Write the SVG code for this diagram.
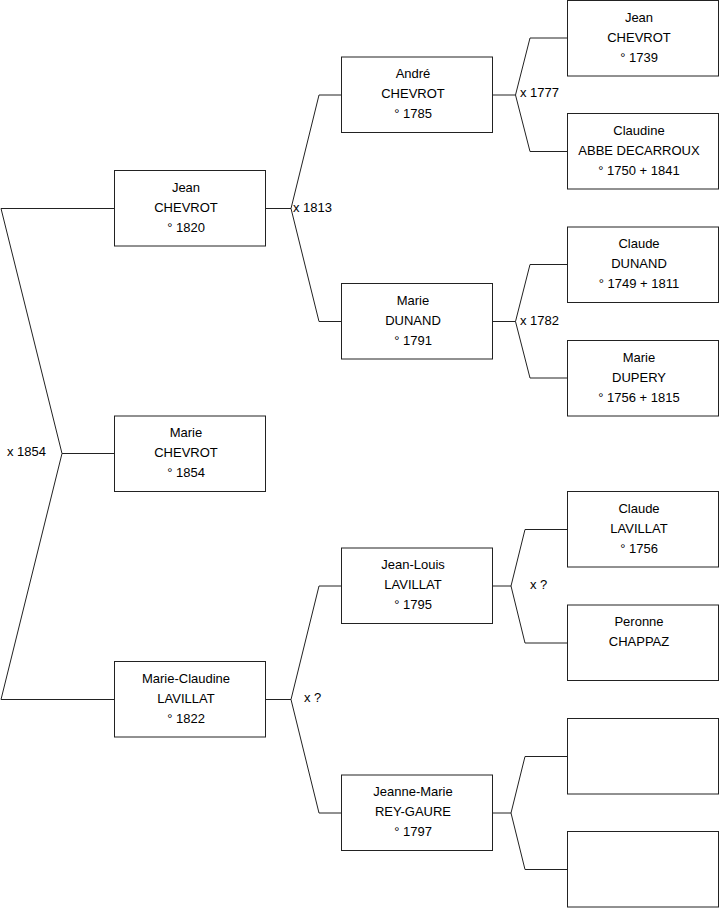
<svg xmlns="http://www.w3.org/2000/svg" width="719" height="908" viewBox="0 0 719 908">
<style>
.box{fill:#fff;stroke:#222;stroke-width:1}
.con path{fill:none;stroke:#222;stroke-width:1}
text{font-family:"Liberation Sans",Arial,sans-serif;font-size:13px;fill:#000}
.c{text-anchor:middle}
</style>
<rect width="719" height="908" fill="#fff"/>
<g id="connectors" class="con">
<path d="M114.5,208.5 H1 L62,453.5 L1,699.5 H114.5 M62,453.5 H114.5"/>
<path d="M265.5,208.5 H291 M341.5,95 H319 L291,208.5 L319,321.5 H341.5"/>
<path d="M265.5,699.5 H291 M341.5,586 H319 L291,699.5 L319,813 H341.5"/>
<path d="M492,95 H515.5 M567.5,38 H530 L515.5,95 L530,151.5 H567.5"/>
<path d="M492,321.5 H515.5 M567.5,264.5 H530 L515.5,321.5 L530,378 H567.5"/>
<path d="M492,586 H511 M567.5,529.5 H525 L511,586 L525,643 H567.5"/>
<path d="M492,813 H511 M567.5,756.5 H525 L511,813 L525,869.5 H567.5"/>
</g>
<g id="labels">
<text x="7" y="456">x 1854</text>
<text x="293" y="211.5">x 1813</text>
<text x="304" y="702">x ?</text>
<text x="520" y="97">x 1777</text>
<text x="520" y="324.5">x 1782</text>
<text x="530" y="588.5">x ?</text>
</g>
<g id="n-jean-1820">
<rect class="box" x="114.5" y="170.5" width="151" height="75.5"/>
<text class="c" x="186" y="191.5">Jean</text>
<text class="c" x="186" y="211.5">CHEVROT</text>
<text class="c" x="186" y="231.5">° 1820</text>
</g>
<g id="n-marie-1854">
<rect class="box" x="114.5" y="416" width="151" height="75.5"/>
<text class="c" x="186" y="437">Marie</text>
<text class="c" x="186" y="457">CHEVROT</text>
<text class="c" x="186" y="477">° 1854</text>
</g>
<g id="n-marie-claudine">
<rect class="box" x="114.5" y="661.5" width="151" height="75.5"/>
<text class="c" x="186" y="682.5">Marie-Claudine</text>
<text class="c" x="186" y="702.5">LAVILLAT</text>
<text class="c" x="186" y="722.5">° 1822</text>
</g>
<g id="n-andre">
<rect class="box" x="341.5" y="57" width="151" height="75.5"/>
<text class="c" x="413" y="78">André</text>
<text class="c" x="413" y="98">CHEVROT</text>
<text class="c" x="413" y="118">° 1785</text>
</g>
<g id="n-marie-dunand">
<rect class="box" x="341.5" y="283.5" width="151" height="75.5"/>
<text class="c" x="413" y="304.5">Marie</text>
<text class="c" x="413" y="324.5">DUNAND</text>
<text class="c" x="413" y="344.5">° 1791</text>
</g>
<g id="n-jean-louis">
<rect class="box" x="341.5" y="548" width="151" height="75.5"/>
<text class="c" x="413" y="569">Jean-Louis</text>
<text class="c" x="413" y="589">LAVILLAT</text>
<text class="c" x="413" y="609">° 1795</text>
</g>
<g id="n-jeanne-marie">
<rect class="box" x="341.5" y="775" width="151" height="75.5"/>
<text class="c" x="413" y="796">Jeanne-Marie</text>
<text class="c" x="413" y="816">REY-GAURE</text>
<text class="c" x="413" y="836">° 1797</text>
</g>
<g id="n-jean-1739">
<rect class="box" x="567.5" y="0.5" width="151" height="75.5"/>
<text class="c" x="639" y="21.5">Jean</text>
<text class="c" x="639" y="41.5">CHEVROT</text>
<text class="c" x="639" y="61.5">° 1739</text>
</g>
<g id="n-claudine">
<rect class="box" x="567.5" y="113.5" width="151" height="75.5"/>
<text class="c" x="639" y="134.5">Claudine</text>
<text class="c" x="639" y="154.5">ABBE DECARROUX</text>
<text class="c" x="639" y="174.5">° 1750 + 1841</text>
</g>
<g id="n-claude-dunand">
<rect class="box" x="567.5" y="227" width="151" height="75.5"/>
<text class="c" x="639" y="248">Claude</text>
<text class="c" x="639" y="268">DUNAND</text>
<text class="c" x="639" y="288">° 1749 + 1811</text>
</g>
<g id="n-marie-dupery">
<rect class="box" x="567.5" y="340.5" width="151" height="75.5"/>
<text class="c" x="639" y="361.5">Marie</text>
<text class="c" x="639" y="381.5">DUPERY</text>
<text class="c" x="639" y="401.5">° 1756 + 1815</text>
</g>
<g id="n-claude-lavillat">
<rect class="box" x="567.5" y="491.5" width="151" height="75.5"/>
<text class="c" x="639" y="512.5">Claude</text>
<text class="c" x="639" y="532.5">LAVILLAT</text>
<text class="c" x="639" y="552.5">° 1756</text>
</g>
<g id="n-peronne">
<rect class="box" x="567.5" y="605" width="151" height="75.5"/>
<text class="c" x="639" y="626">Peronne</text>
<text class="c" x="639" y="646">CHAPPAZ</text>
</g>
<g id="n-empty-1">
<rect class="box" x="567.5" y="718.5" width="151" height="75.5"/>
</g>
<g id="n-empty-2">
<rect class="box" x="567.5" y="831.5" width="151" height="75.5"/>
</g>
</svg>
